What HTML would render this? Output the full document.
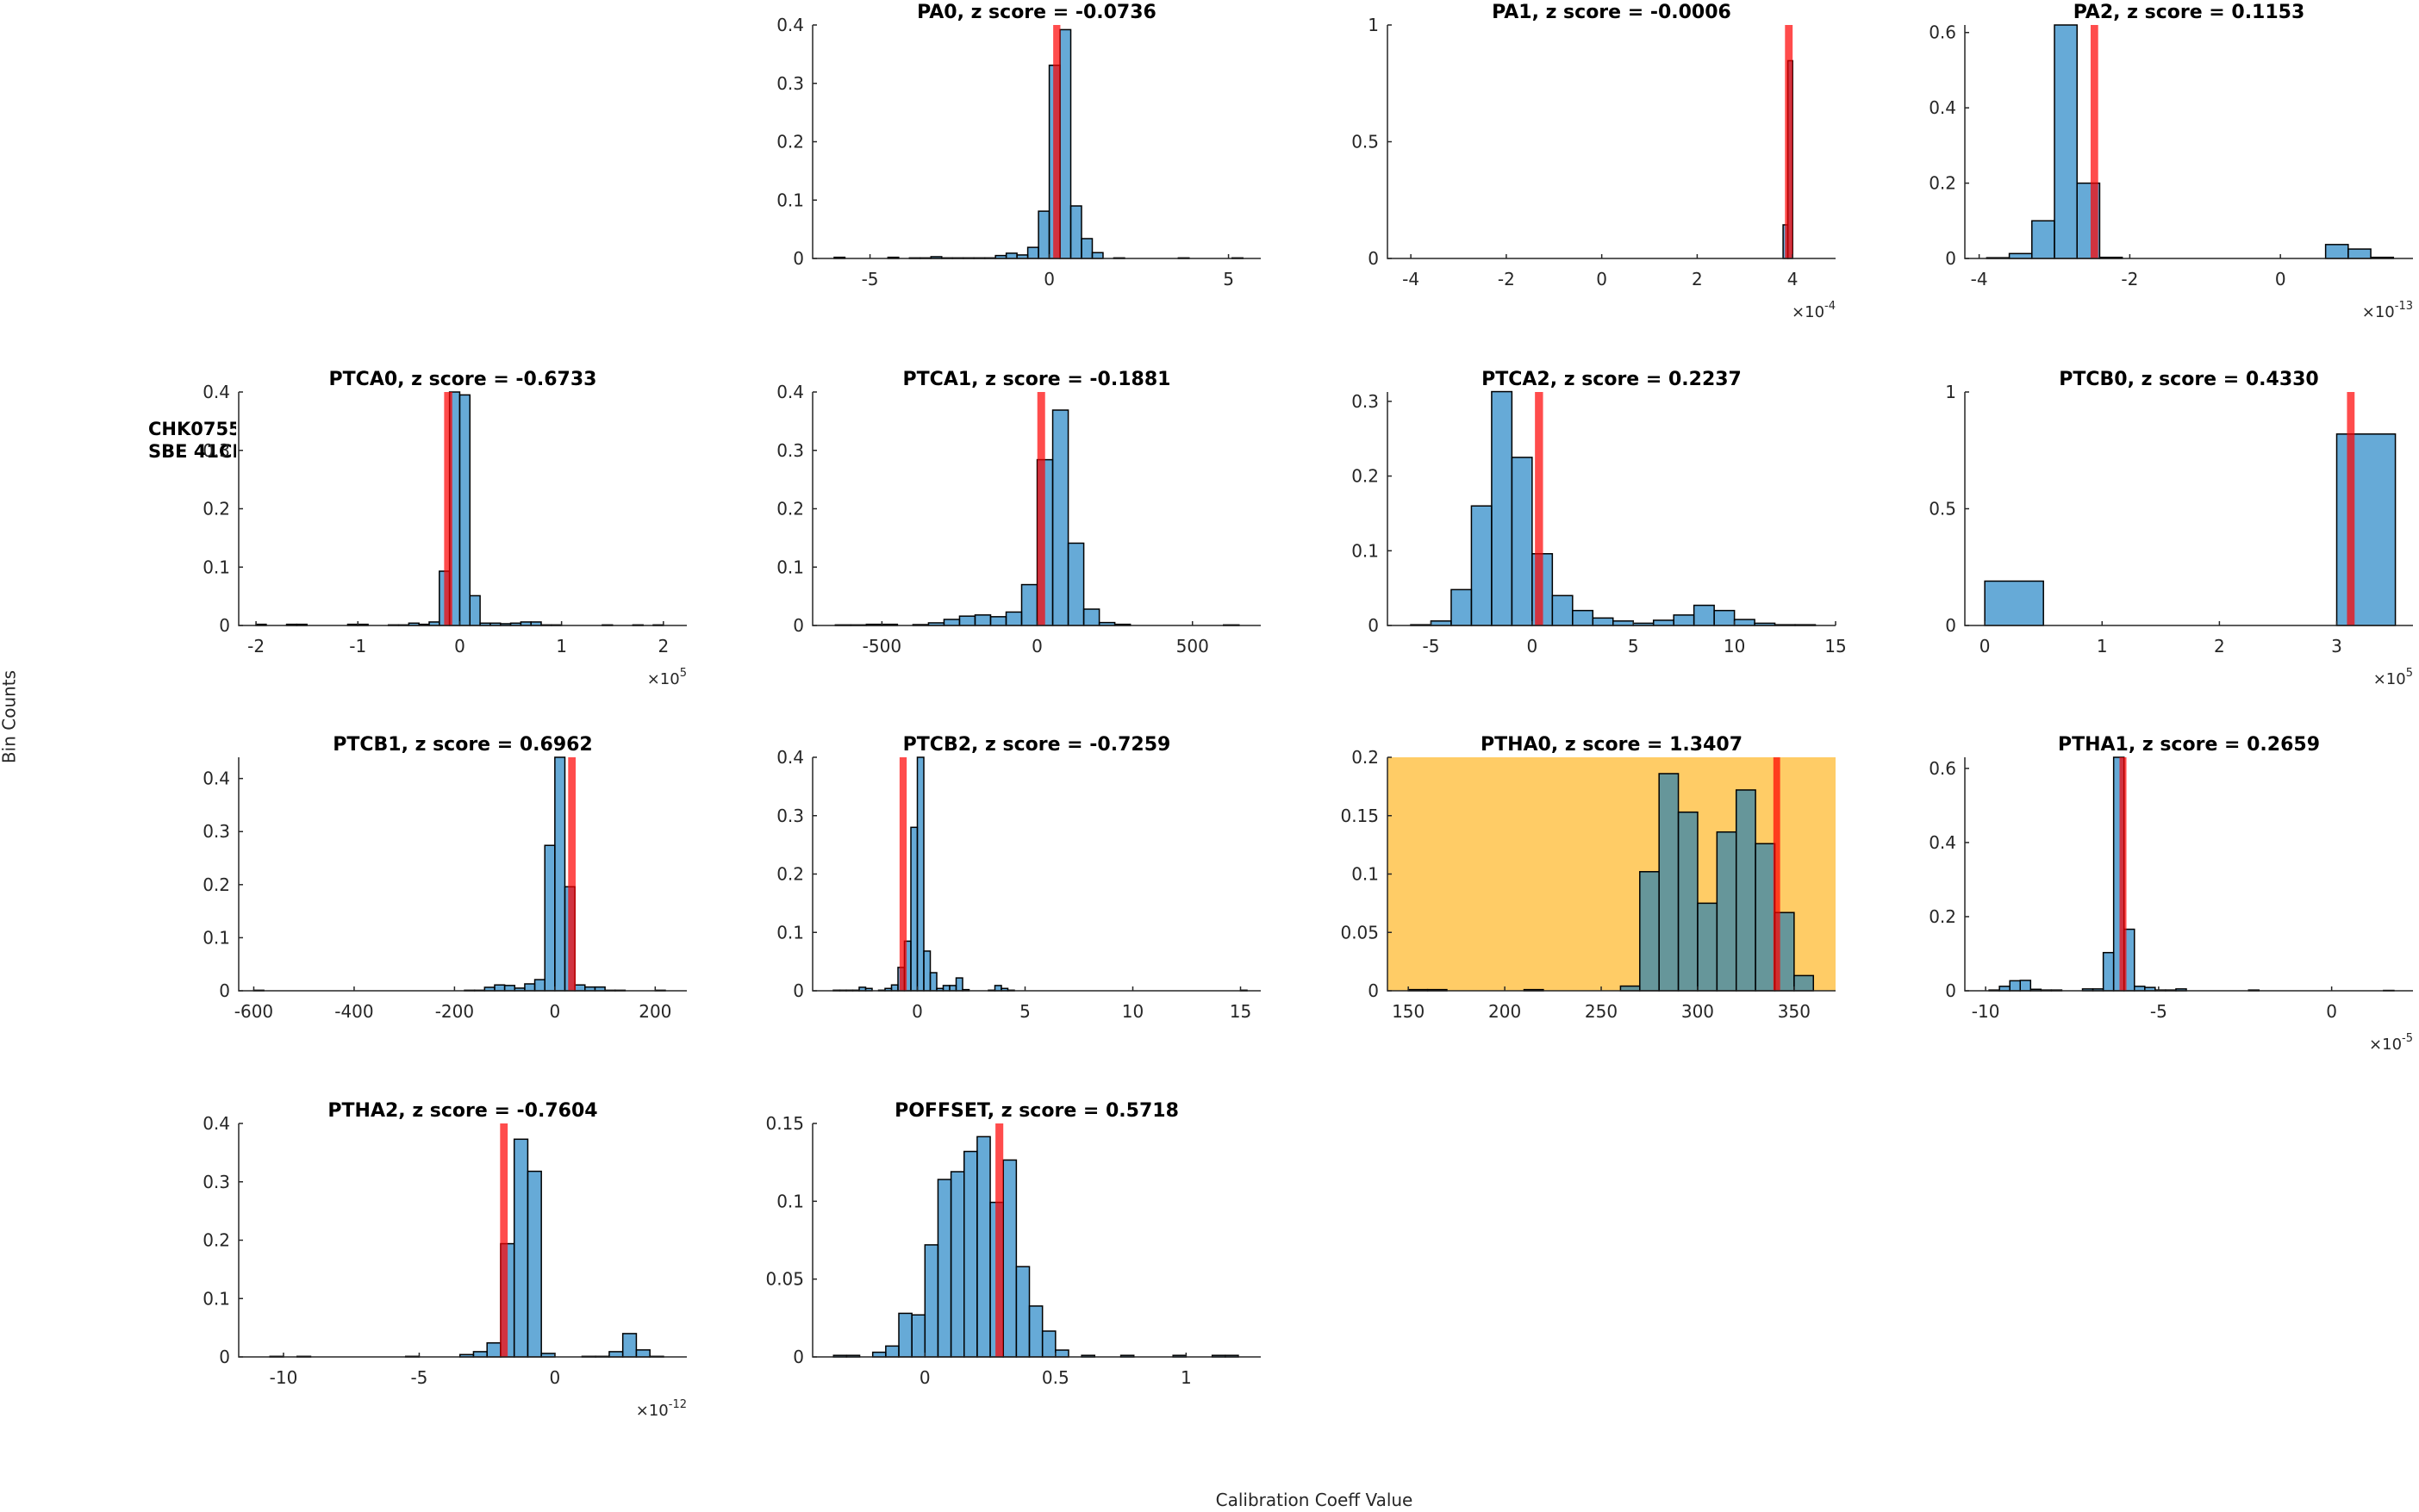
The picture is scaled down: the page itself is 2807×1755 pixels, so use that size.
<!DOCTYPE html>
<html><head><meta charset="utf-8"><style>
html,body{margin:0;padding:0;background:#fff;}
svg{display:block;font-family:"DejaVu Sans","Liberation Sans",sans-serif;}
</style></head><body>
<svg id="fig" width="2807" height="1755" viewBox="0 0 2807 1755" xmlns="http://www.w3.org/2000/svg">
<rect x="0" y="0" width="2807" height="1755" fill="#fff"/>
<text x="12" y="832" transform="rotate(-90 12 832)" text-anchor="middle" dominant-baseline="middle" font-size="20" fill="#262626">Bin Counts</text>
<text x="1525" y="1748" text-anchor="middle" font-size="20" fill="#262626">Calibration Coeff Value</text>
<svg x="172" y="480" width="102" height="60" overflow="hidden">
<text x="0" y="25" font-size="21" font-weight="bold" fill="#000">CHK0755</text>
<text x="0" y="51" font-size="21" font-weight="bold" fill="#000">SBE 41CP</text>
</svg>
<g id="panels"></g>
</svg>
<script>
// ---- data arrays (bin left edges, bin heights) ----
const pa0Edges=[-6.0,-4.5,-3.9,-3.6,-3.3,-3.0,-2.7,-2.4,-2.1,-1.8,-1.5,-1.2,-0.9,-0.6,-0.3,0,0.3,0.6,0.9,1.2,1.8,3.6,5.1];
const pa0Counts=[0.002,0.002,0.001,0.001,0.003,0.001,0.001,0.001,0.001,0.001,0.005,0.009,0.006,0.019,0.081,0.331,0.392,0.090,0.034,0.010,0.001,0.001,0.001];
const pa1Edges=[3.8,3.9];
const pa1Counts=[0.144,0.847];
const pa2Edges=[-3.9,-3.6,-3.3,-3.0,-2.7,-2.4,0.6,0.9,1.2];
const pa2Counts=[0.002,0.013,0.1,0.62,0.2,0.003,0.037,0.025,0.003];
const ptca0Edges=[-2.0,-1.7,-1.6,-1.1,-1.0,-0.7,-0.6,-0.5,-0.4,-0.3,-0.2,-0.1,0,0.1,0.2,0.3,0.4,0.5,0.6,0.7,0.8,0.9,1.4,1.7,1.9];
const ptca0Counts=[0.002,0.002,0.002,0.002,0.002,0.001,0.001,0.004,0.002,0.006,0.093,0.40,0.395,0.051,0.004,0.004,0.003,0.004,0.006,0.006,0.001,0.001,0.001,0.001,0.001];
const ptca1Edges=[-650,-600,-550,-500,-400,-350,-300,-250,-200,-150,-100,-50,0,50,100,150,200,250,600];
const ptca1Counts=[0.001,0.001,0.002,0.002,0.0015,0.0045,0.0104,0.016,0.018,0.015,0.023,0.07,0.284,0.369,0.141,0.028,0.005,0.002,0.001];
const ptca2Edges=[-6,-5,-4,-3,-2,-1,0,1,2,3,4,5,6,7,8,9,10,11,12,13];
const ptca2Counts=[0.001,0.006,0.048,0.16,0.313,0.225,0.096,0.04,0.02,0.01,0.006,0.003,0.007,0.014,0.027,0.02,0.008,0.003,0.001,0.001];
const ptcb0Edges=[0,3];
const ptcb0Counts=[0.19,0.82];
const ptcb1Edges=[-600,-180,-160,-140,-120,-100,-80,-60,-40,-20,0,20,40,60,80,100,120,200];
const ptcb1Counts=[0.001,0.001,0.001,0.0065,0.011,0.01,0.005,0.013,0.021,0.274,0.44,0.196,0.011,0.007,0.007,0.001,0.001,0.001];
const ptcb2Edges=[-3.9,-3.6,-3.3,-3.0,-2.7,-2.4,-1.8,-1.5,-1.2,-0.9,-0.6,-0.3,0,0.3,0.6,0.9,1.2,1.5,1.8,2.1,3.3,3.6,3.9,4.2,15.0];
const ptcb2Counts=[0.001,0.001,0.001,0.001,0.006,0.004,0.001,0.004,0.01,0.04,0.085,0.28,0.4,0.068,0.031,0.004,0.009,0.009,0.022,0.002,0.001,0.009,0.004,0.001,0.001];
const ptha0Edges=[150,160,210,260,270,280,290,300,310,320,330,340,350];
const ptha0Counts=[0.001,0.001,0.001,0.004,0.102,0.186,0.153,0.075,0.136,0.172,0.126,0.067,0.013];
const ptha1Edges=[-9.9,-9.6,-9.3,-9.0,-8.7,-8.4,-8.1,-7.2,-6.9,-6.6,-6.3,-6.0,-5.7,-5.4,-5.1,-4.8,-4.5,-2.4,1.5];
const ptha1Counts=[0.002,0.012,0.027,0.028,0.004,0.002,0.002,0.005,0.005,0.103,0.63,0.166,0.012,0.009,0.002,0.002,0.005,0.002,0.001];
const ptha2Edges=[-10.5,-9.5,-5.5,-3.5,-3.0,-2.5,-2.0,-1.5,-1.0,-0.5,1.0,1.5,2.0,2.5,3.0,3.5];
const ptha2Counts=[0.001,0.001,0.001,0.004,0.009,0.024,0.194,0.373,0.318,0.006,0.001,0.001,0.009,0.04,0.012,0.001];
const poffsetEdges=[-0.35,-0.30,-0.20,-0.15,-0.10,-0.05,0,0.05,0.10,0.15,0.20,0.25,0.30,0.35,0.40,0.45,0.50,0.60,0.75,0.95,1.10,1.15];
const poffsetCounts=[0.001,0.001,0.003,0.007,0.028,0.027,0.072,0.114,0.119,0.132,0.1415,0.0993,0.1265,0.058,0.0327,0.0166,0.0044,0.001,0.001,0.001,0.001,0.001];
// reference values (red markers)
const panelNames=["PA0","PA1","PA2","PTCA0","PTCA1","PTCA2","PTCB0","PTCB1","PTCB2","PTHA0","PTHA1","PTHA2","POFFSET"];
const zScores=["-0.0736","-0.0006","0.1153","-0.6733","-0.1881","0.2237","0.4330","0.6962","-0.7259","1.3407","0.2659","-0.7604","0.5718"];
const refValues=[0.21,3.92,-2.47,-0.113,13,0.34,3.12,34,-0.66,341,-6.03,-1.88,0.285];
const binWidths=[0.3,0.1,0.3,0.1,50,1,0.5,20,0.3,10,0.3,0.5,0.05];
const xTicks=[[-5,0,5],[-4,-2,0,2,4],[-4,-2,0],[-2,-1,0,1,2],[-500,0,500],[-5,0,5,10,15],[0,1,2,3],[-600,-400,-200,0,200],[0,5,10,15],[150,200,250,300,350],[-10,-5,0],[-10,-5,0],[0,0.5,1]];
const yTicks=[[0,0.1,0.2,0.3,0.4],[0,0.5,1],[0,0.2,0.4,0.6],[0,0.1,0.2,0.3,0.4],[0,0.1,0.2,0.3,0.4],[0,0.1,0.2,0.3],[0,0.5,1],[0,0.1,0.2,0.3,0.4],[0,0.1,0.2,0.3,0.4],[0,0.05,0.1,0.15,0.2],[0,0.2,0.4,0.6],[0,0.1,0.2,0.3,0.4],[0,0.05,0.1,0.15]];
const xLims=[[-6.6,5.9],[-4.49,4.9],[-4.19,1.76],[-2.17,2.23],[-723,720],[-7.15,15],[-0.17,3.65],[-630,263],[-4.86,15.94],[139.2,371.5],[-10.6,2.35],[-11.65,4.86],[-0.43,1.286]];
const yMax=[0.4,1,0.62,0.4,0.4,0.3125,1,0.44,0.4,0.2,0.63,0.4,0.15];
const exponents=["","-4","-13","5","","","5","","","","-5","-12",""];
const allEdges=[pa0Edges,pa1Edges,pa2Edges,ptca0Edges,ptca1Edges,ptca2Edges,ptcb0Edges,ptcb1Edges,ptcb2Edges,ptha0Edges,ptha1Edges,ptha2Edges,poffsetEdges];
const allCounts=[pa0Counts,pa1Counts,pa2Counts,ptca0Counts,ptca1Counts,ptca2Counts,ptcb0Counts,ptcb1Counts,ptcb2Counts,ptha0Counts,ptha1Counts,ptha2Counts,poffsetCounts];

// ---- layout ----
const colLeft=[277,943,1610,2280], rowTop=[29,455,879,1304];
const AW=520, AH=271;
const gridPos=[[0,1],[0,2],[0,3],[1,0],[1,1],[1,2],[1,3],[2,0],[2,1],[2,2],[2,3],[3,0],[3,1]];
const NS="http://www.w3.org/2000/svg";
const root=document.getElementById('panels');
function mk(tag,attrs,parent){const e=document.createElementNS(NS,tag);for(const k in attrs)e.setAttribute(k,attrs[k]);parent.appendChild(e);return e;}
function fmt(v){let s=String(Math.round(v*1000)/1000);return s;}

panelNames.forEach((nm,i)=>{
  const L=colLeft[gridPos[i][1]], T=rowTop[gridPos[i][0]], B=T+AH, R=L+AW;
  const [x0,x1]=xLims[i];
  const sx=v=>L+(v-x0)/(x1-x0)*AW;
  const sy=v=>B-v/yMax[i]*AH;
  const g=mk('g',{},root);
  
  
  if(nm==="PTHA0"){
    const bg=mk('rect',{x:L,y:T,width:AW,height:AH,fill:'#ffcc66'},g);
    
    
  }
  const clip=mk('svg',{x:L,y:T-2,width:AW,height:AH+4,overflow:'hidden'},g);
  
  
  const w=binWidths[i];
  allEdges[i].forEach((e,j)=>{
    const h=allCounts[i][j];
    const xa=sx(e)-L, xb=sx(e+w)-L, yt=sy(h)-T+2;
    const r=mk('rect',{x:xa,y:yt,width:Math.max(xb-xa,0.5),height:B-sy(h),fill:'#0072bd','fill-opacity':0.6,stroke:'#000','stroke-width':1.5},clip);
    
    
  });
  const rv=refValues[i], rw=(nm==="PA1")?0.16:(nm==="PA2")?0.1:(nm==="PTCA0")?0.08:(nm==="PTCA1")?25:(nm==="PTCA2")?0.4:(nm==="PTCB0")?0.065:(nm==="PTCB1")?15:(nm==="PTCB2")?0.33:(nm==="PTHA0")?3.5:(nm==="PTHA1")?0.2:(nm==="PTHA2")?0.28:(nm==="POFFSET")?0.03:0.2;
  const red=mk('rect',{x:sx(rv-rw/2)-L,y:2,width:sx(rv+rw/2)-sx(rv-rw/2),height:AH,fill:'#ff0000','fill-opacity':0.7},clip);
  
  
  // axes
  const ax=mk('path',{d:`M${L},${T}V${B}H${R}`,stroke:'#262626','stroke-width':1.5,fill:'none'},g);
  
  
  yTicks[i].forEach(v=>{
    const y=sy(v);
    const t=mk('path',{d:`M${L},${y}H${L+5}`,stroke:'#262626','stroke-width':1.5},g);
    
    
    const lb=mk('text',{x:L-10,y:y+7,'text-anchor':'end','font-size':20,fill:'#262626'},g);
    lb.textContent=fmt(v);
    
    
  });
  xTicks[i].forEach(v=>{
    const x=sx(v);
    const t=mk('path',{d:`M${x},${B}V${B-5}`,stroke:'#262626','stroke-width':1.5},g);
    
    
    const lb=mk('text',{x:x,y:B+31,'text-anchor':'middle','font-size':20,fill:'#262626'},g);
    lb.textContent=fmt(v);
    
    
  });
  if(exponents[i]){
    const ex=mk('text',{x:R,y:B+68,'text-anchor':'end','font-size':18,fill:'#262626'},g);
    
    
    const t1=mk('tspan',{},ex); t1.textContent='\u00d710';
    const t2=mk('tspan',{dy:-9,'font-size':13},ex); t2.textContent=exponents[i];
  }
  const ti=mk('text',{x:L+AW/2,y:T-8,'text-anchor':'middle','font-size':22,'font-weight':'bold',fill:'#000'},g);
  ti.textContent=nm+', z score = '+zScores[i];
  
  
});
</script>
</body></html>
